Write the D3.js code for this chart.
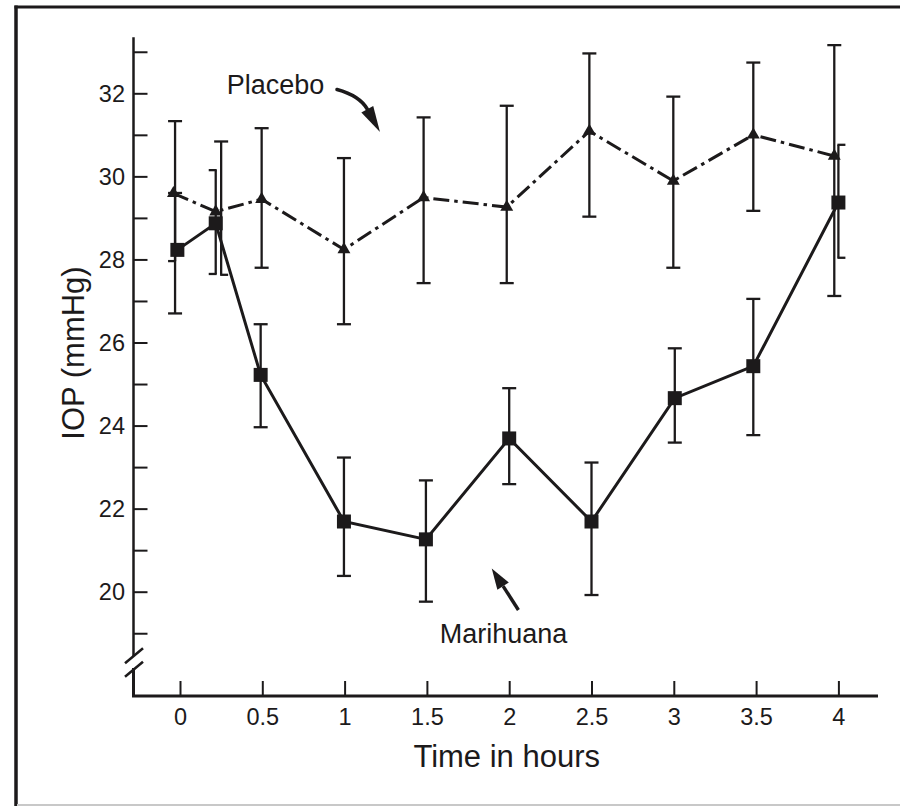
<!DOCTYPE html>
<html><head><meta charset="utf-8">
<script src="https://cdn.jsdelivr.net/npm/d3@7"></script>
<style>html,body{margin:0;padding:0;background:#fff;} svg{display:block;}</style>
</head><body>
<svg id="chart" width="900" height="806"></svg>
<script>
// ---- data ----
const placeboTime   = [-0.04, 0.217, 0.496, 0.996, 1.48, 1.985, 2.487, 2.997, 3.483, 3.975];
const placeboMean   = [29.59, 29.15, 29.45, 28.24, 29.49, 29.26, 31.09, 29.89, 31.00, 30.49];
const placeboHigh   = [31.33, 30.84, 31.16, 30.44, 31.42, 31.70, 32.96, 31.92, 32.74, 33.16];
const placeboLow    = [27.96, 27.63, 27.80, 26.44, 27.43, 27.43, 29.03, 27.80, 29.17, 27.12];
const placeboBarTime= [-0.03, 0.25, 0.496, 0.996, 1.48, 1.985, 2.487, 2.997, 3.483, 3.975];

const marihuanaTime    = [-0.016, 0.217, 0.49, 0.996, 1.494, 2.0, 2.5, 3.006, 3.483, 4.0];
const marihuanaMean    = [28.23, 28.87, 25.22, 21.69, 21.26, 23.69, 21.69, 24.66, 25.43, 29.37];
const marihuanaHigh    = [29.60, 30.15, 26.44, 23.23, 22.68, 24.90, 23.11, 25.86, 27.05, 30.76];
const marihuanaLow     = [26.70, 27.65, 23.96, 20.38, 19.76, 22.59, 19.92, 23.59, 23.77, 28.04];
const marihuanaBarTime = [-0.03, 0.217, 0.49, 0.996, 1.494, 2.0, 2.5, 3.006, 3.483, 4.0];

const xTicks      = [0, 0.5, 1, 1.5, 2, 2.5, 3, 3.5, 4];
const xTickLabels = ["0", "0.5", "1", "1.5", "2", "2.5", "3", "3.5", "4"];
const yTicks      = [19, 20, 21, 22, 23, 24, 25, 26, 27, 28, 29, 30, 31, 32, 33];
const yTickLabels = ["", "20", "", "22", "", "24", "", "26", "", "28", "", "30", "", "32", ""];

const xTitle = "Time in hours";
const yTitle = "IOP (mmHg)";
const seriesNames = ["Placebo", "Marihuana"];
// annotation anchors in data units [time, IOP]
const placeboLabelAt   = [0.284, 31.98];
const marihuanaLabelAt = [1.578, 18.76];
const placeboArrow     = [[0.954, 32.09], [1.092, 31.94], [1.215, 31.07]]; // tail, control, tip
const marihuanaArrow   = [[2.056, 19.56], [1.894, 20.56]];                  // tail, tip

// ---- drawing ----
const svg = d3.select("#chart");
const INK = "#1c1a1b";
const FONT = "'Liberation Sans', Arial, Helvetica, sans-serif";

svg.append("rect").attr("width", 900).attr("height", 806).attr("fill", "#fff");

const x = d3.scaleLinear().domain([0, 4]).range([180, 838.4]);
const y = d3.scaleLinear().domain([20, 32]).range([591.7, 93.3]);

const axisX = 133.5, axisY = 696;

// frame
svg.append("line").attr("x1", 16).attr("x2", 16).attr("y1", 5.5).attr("y2", 806)
  .attr("stroke", INK).attr("stroke-width", 3.5);
svg.append("line").attr("x1", 14.5).attr("x2", 900).attr("y1", 7).attr("y2", 7)
  .attr("stroke", INK).attr("stroke-width", 3);
svg.append("line").attr("x1", 17).attr("x2", 900).attr("y1", 805).attr("y2", 805)
  .attr("stroke", "#c8c8c8").attr("stroke-width", 2);

// y axis (ticks + labels)
const gy = svg.append("g").attr("transform", `translate(${axisX},0)`)
  .call(d3.axisLeft(y).tickValues(yTicks).tickFormat((d, i) => yTickLabels[i])
        .tickSizeInner(-14).tickSizeOuter(0).tickPadding(8.5));
gy.select(".domain").remove();
gy.selectAll(".tick line").attr("stroke", INK).attr("stroke-width", 2);
gy.selectAll(".tick text").attr("font-family", FONT).attr("font-size", 23.5)
  .attr("fill", INK).attr("dy", "0.35em");

// x axis
const gx = svg.append("g").attr("transform", `translate(0,${axisY})`)
  .call(d3.axisBottom(x).tickValues(xTicks).tickFormat((d, i) => xTickLabels[i])
        .tickSizeInner(-15).tickSizeOuter(0).tickPadding(12.5));
gx.select(".domain").remove();
gx.selectAll(".tick line").attr("stroke", INK).attr("stroke-width", 2);
gx.selectAll(".tick text").attr("font-family", FONT).attr("font-size", 23.5).attr("fill", INK);

// axis lines with break
const axisTop = y(33.35);
svg.append("line").attr("x1", axisX).attr("x2", axisX).attr("y1", axisTop).attr("y2", 656)
  .attr("stroke", INK).attr("stroke-width", 2.5);
svg.append("path").attr("d", `M${axisX},668 L${axisX},${axisY} L878,${axisY}`)
  .attr("fill", "none").attr("stroke", INK).attr("stroke-width", 3);
[[663.3, 648.3], [676.7, 661.7]].forEach(([a, b]) => {
  svg.append("line").attr("x1", axisX - 8.5).attr("y1", a).attr("x2", axisX + 9.5).attr("y2", b)
    .attr("stroke", INK).attr("stroke-width", 2.5);
});

// axis titles
svg.append("text").attr("transform", `translate(83.5,353) rotate(-90)`)
  .attr("text-anchor", "middle").attr("font-family", FONT).attr("font-size", 31)
  .attr("fill", INK).text(yTitle);
svg.append("text").attr("x", x(2) - 2.5).attr("y", 767).attr("text-anchor", "middle")
  .attr("font-family", FONT).attr("font-size", 31).attr("fill", INK).text(xTitle);

// series lines
const line = d3.line().x(d => x(d[0])).y(d => y(d[1]));
const pData = placeboTime.map((t, i) => [t, placeboMean[i]]);
const mData = marihuanaTime.map((t, i) => [t, marihuanaMean[i]]);

svg.append("path").attr("d", line(pData)).attr("fill", "none").attr("stroke", INK)
  .attr("stroke-width", 3).attr("stroke-dasharray", "16,5,3.5,5");
svg.append("path").attr("d", line(mData)).attr("fill", "none").attr("stroke", INK)
  .attr("stroke-width", 3).attr("stroke-linejoin", "miter");

// error bars
const capStyles = {
  placebo:   {0: ["full", "left"], 1: ["full", "right"]},
  marihuana: {1: ["left", "left"], 9: ["right", "right"]}
};
function drawBars(times, hi, lo, key) {
  const g = svg.append("g").attr("stroke", INK).attr("stroke-width", 2.3).attr("fill", "none");
  times.forEach((t, i) => {
    const cx = x(t), yt = y(hi[i]), yb = y(lo[i]);
    g.append("line").attr("x1", cx).attr("x2", cx).attr("y1", yt).attr("y2", yb);
    const caps = (capStyles[key][i]) || ["full", "full"];
    [[yt, caps[0]], [yb, caps[1]]].forEach(([yy, s]) => {
      const x1 = s === "right" ? cx - 1 : cx - 7;
      const x2 = s === "left" ? cx + 1 : cx + 7;
      g.append("line").attr("x1", x1).attr("x2", x2).attr("y1", yy).attr("y2", yy);
    });
  });
}
drawBars(placeboBarTime, placeboHigh, placeboLow, "placebo");
drawBars(marihuanaBarTime, marihuanaHigh, marihuanaLow, "marihuana");

// markers
svg.append("g").selectAll("path").data(pData).join("path")
  .attr("transform", d => `translate(${x(d[0])},${y(d[1])})`)
  .attr("d", d3.symbol().type(d3.symbolTriangle).size(72)).attr("fill", INK);
svg.append("g").selectAll("path").data(mData).join("path")
  .attr("transform", d => `translate(${x(d[0])},${y(d[1])})`)
  .attr("d", d3.symbol().type(d3.symbolSquare).size(196)).attr("fill", INK);

// annotations
svg.append("text").attr("x", x(placeboLabelAt[0])).attr("y", y(placeboLabelAt[1]))
  .attr("font-family", FONT).attr("font-size", 27).attr("fill", INK).text(seriesNames[0]);
svg.append("text").attr("x", x(marihuanaLabelAt[0])).attr("y", y(marihuanaLabelAt[1]))
  .attr("font-family", FONT).attr("font-size", 27).attr("fill", INK).text(seriesNames[1]);

function arrowHead(tip, from, len, half) {
  const dx = tip[0] - from[0], dy = tip[1] - from[1];
  const L = Math.hypot(dx, dy), ux = dx / L, uy = dy / L;
  const bx = tip[0] - ux * len, by = tip[1] - uy * len;
  return {base: [bx, by],
          pts: [[tip[0], tip[1]], [bx - uy * half, by + ux * half], [bx + uy * half, by - ux * half]]};
}
// placebo curved arrow
{
  const p = placeboArrow.map(d => [x(d[0]), y(d[1])]);
  const h = arrowHead(p[2], p[1], 26, 6.8);
  svg.append("path").attr("d", `M${p[0][0]},${p[0][1]} Q${p[1][0]},${p[1][1]} ${h.base[0]},${h.base[1]}`)
    .attr("fill", "none").attr("stroke", INK).attr("stroke-width", 3.6).attr("stroke-linecap", "round");
  svg.append("path").attr("d", "M" + h.pts.join("L") + "Z").attr("fill", INK);
}
// marihuana straight arrow
{
  const p = marihuanaArrow.map(d => [x(d[0]), y(d[1])]);
  const h = arrowHead(p[1], p[0], 21, 6.8);
  svg.append("line").attr("x1", p[0][0]).attr("y1", p[0][1]).attr("x2", h.base[0]).attr("y2", h.base[1])
    .attr("stroke", INK).attr("stroke-width", 3.4);
  svg.append("path").attr("d", "M" + h.pts.join("L") + "Z").attr("fill", INK);
}
</script>
</body></html>
